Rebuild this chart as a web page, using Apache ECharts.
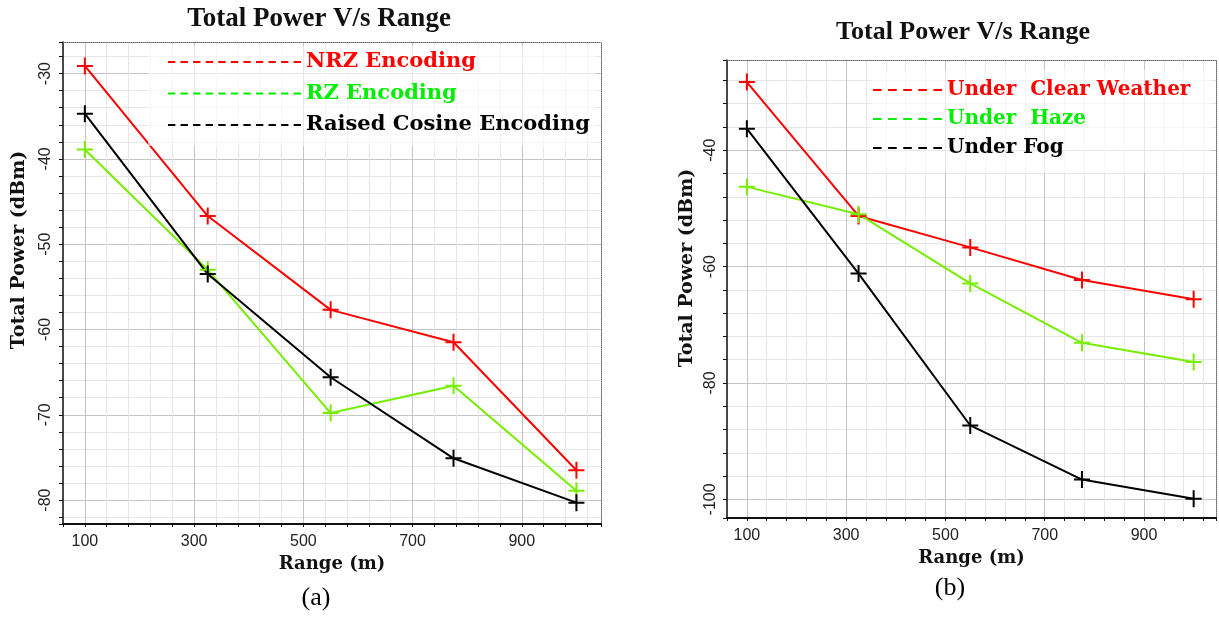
<!DOCTYPE html>
<html>
<head>
<meta charset="utf-8">
<script src="https://cdn.jsdelivr.net/npm/echarts@6/dist/echarts.min.js"></script>
<style>
html, body { margin:0; padding:0; background:#fff; }
#main { width:1219px; height:617px; }
</style>
</head>
<body>
<div id="main"></div>
<script>
// range (m), same for both plots
var range = [100, 325, 550, 775, 1000];

// (a) encodings
var encNames = ['NRZ Encoding', 'RZ Encoding', 'Raised Cosine Encoding'];
var nrz = [-29.1, -46.7, -57.7, -61.5, -76.5];
var rz = [-38.9, -53.0, -69.8, -66.6, -78.9];
var raisedCos = [-34.7, -53.5, -65.6, -75.1, -80.3];

// (b) weather
var weatherNames = ['Under  Clear Weather', 'Under  Haze', 'Under Fog'];
var clearW = [-28.3, -51.3, -56.7, -62.3, -65.6];
var haze = [-46.3, -51.0, -62.9, -73.1, -76.4];
var fog = [-36.3, -61.2, -87.3, -96.6, -99.9];

// tick labels
var xTicks = [100, 300, 500, 700, 900];
var yTicksA = [-30, -40, -50, -60, -70, -80];
var yTicksB = [-40, -60, -80, -100];

var lineCols = ['#ff0000', '#77ee00', '#000000'];
var legCols = ['#ff0000', '#00ee00', '#000000'];
var plus = 'path://M7,0h2v17h-2z M0,7.5h16v2h-16z';

function pts(ys) {
    return range.map(function (x, i) { return [x, ys[i]]; });
}
function dashPath(n, d, g) {
    var p = 'path://';
    for (var i = 0; i < n; i++) p += 'M' + (i * (d + g)) + ',0h' + d + 'v2h-' + d + 'z ';
    return p;
}
function pick(list) {
    return function (v) { return list.indexOf(Math.round(v * 1000) / 1000) >= 0 ? v : ''; };
}

var lite = '#e6e6e6', dark = '#c4c4c4';
var nameFont = { fontFamily: 'DejaVu Serif', fontWeight: 'bold', fontSize: 18, color: '#111' };
var tickFont = { fontFamily: 'Liberation Sans', fontSize: 16, color: '#222' };

function bottomAxis(gi) {
    return {
        type: 'value', gridIndex: gi, min: 60, max: 1045, interval: 40,
        axisLine: { show: true, onZero: false, lineStyle: { color: '#111', width: 2 } },
        axisTick: { show: true, length: 3, lineStyle: { color: '#111' } },
        axisLabel: Object.assign({ formatter: pick(xTicks), margin: 10 }, tickFont),
        splitLine: { show: true, lineStyle: { color: [lite, dark, lite, lite, lite], width: 1 } },
        name: 'Range (m)', nameLocation: 'middle', nameGap: 26, nameTextStyle: nameFont
    };
}
function topAxis(gi) {
    return {
        type: 'value', gridIndex: gi, position: 'top', min: 60, max: 1045,
        axisLine: { show: true, onZero: false, lineStyle: { color: '#666', type: [1, 1], width: 1 } },
        axisTick: { show: false }, axisLabel: { show: false }, splitLine: { show: false }
    };
}
function rightAxis(gi, mn, mx) {
    return {
        type: 'value', gridIndex: gi, position: 'right', min: mn, max: mx,
        axisLine: { show: true, onZero: false, lineStyle: { color: '#666', type: [1, 1], width: 1 } },
        axisTick: { show: false }, axisLabel: { show: false }, splitLine: { show: false }
    };
}

var myChart = echarts.init(document.getElementById('main'));

var option = {
    animation: false,
    backgroundColor: '#fff',
    grid: [
        { left: 63, top: 42, width: 538, height: 482 },
        { left: 727, top: 60, width: 489, height: 458 }
    ],
    xAxis: [bottomAxis(0), bottomAxis(1), topAxis(0), topAxis(1)],
    yAxis: [
        {
            type: 'value', gridIndex: 0, min: -82.8, max: -26.3, minInterval: 2, maxInterval: 2, splitNumber: 28,
            axisLine: { show: true, onZero: false, lineStyle: { color: '#111', width: 1.5 } },
            axisTick: { show: true, length: 4, lineStyle: { color: '#111' } },
            axisLabel: Object.assign({ rotate: 90, formatter: pick(yTicksA), margin: 9 }, tickFont),
            splitLine: { show: true, lineStyle: { color: [lite, lite, dark, lite, lite], width: 1 } }
        },
        {
            type: 'value', gridIndex: 1, min: -103.2, max: -24.5, minInterval: 4, maxInterval: 4, splitNumber: 20,
            axisLine: { show: true, onZero: false, lineStyle: { color: '#111', width: 1.5 } },
            axisTick: { show: true, length: 4, lineStyle: { color: '#111' } },
            axisLabel: Object.assign({ rotate: 90, formatter: pick(yTicksB), margin: 8 }, tickFont),
            splitLine: { show: true, lineStyle: { color: [lite, dark, lite, lite, lite], width: 1 } }
        },
        rightAxis(0, -82.8, -26.3),
        rightAxis(1, -103.2, -24.5)
    ],
    legend: [
        {
            orient: 'vertical', left: 148, top: 46, padding: [4, 6, 9, 20], itemGap: 7.5,
            itemWidth: 133, itemHeight: 2, icon: dashPath(11, 7, 5), symbolKeepAspect: false,
            backgroundColor: 'rgba(255,255,255,0.6)', selectedMode: false,
            itemStyle: { borderWidth: 0 },
            textStyle: { fontFamily: 'DejaVu Serif', fontWeight: 'bold', fontSize: 21, lineHeight: 24 },
            data: encNames.map(function (n, i) {
                return { name: n, textStyle: { color: legCols[i] }, itemStyle: { color: legCols[i], borderWidth: 0 } };
            })
        },
        {
            orient: 'vertical', left: 871, top: 70, padding: [9, 20, 14, 2], itemGap: 7,
            itemWidth: 69, itemHeight: 2, icon: dashPath(5, 8, 6), symbolKeepAspect: false,
            backgroundColor: 'rgba(255,255,255,0.6)', selectedMode: false,
            itemStyle: { borderWidth: 0 },
            textStyle: { fontFamily: 'DejaVu Serif', fontWeight: 'bold', fontSize: 20, lineHeight: 22 },
            data: weatherNames.map(function (n, i) {
                return { name: n, textStyle: { color: legCols[i] }, itemStyle: { color: legCols[i], borderWidth: 0 } };
            })
        }
    ],
    graphic: [
        { type: 'text', x: 319, y: 19, style: { text: 'Total Power V/s Range', font: 'bold 27px "Liberation Serif"', fill: '#111', align: 'center', verticalAlign: 'middle' } },
        { type: 'text', x: 963, y: 32, style: { text: 'Total Power V/s Range', font: 'bold 26px "Liberation Serif"', fill: '#111', align: 'center', verticalAlign: 'middle' } },
        { type: 'text', x: 19, y: 250, rotation: Math.PI / 2, style: { text: 'Total Power (dBm)', font: 'bold 19px "DejaVu Serif"', fill: '#111', align: 'center', verticalAlign: 'middle' } },
        { type: 'text', x: 687, y: 268, rotation: Math.PI / 2, style: { text: 'Total Power (dBm)', font: 'bold 19px "DejaVu Serif"', fill: '#111', align: 'center', verticalAlign: 'middle' } },
        { type: 'text', x: 316, y: 598, style: { text: '(a)', font: '26px "Liberation Serif"', fill: '#000', align: 'center', verticalAlign: 'middle' } },
        { type: 'text', x: 950, y: 588, style: { text: '(b)', font: '26px "Liberation Serif"', fill: '#000', align: 'center', verticalAlign: 'middle' } }
    ],
    series: []
};

var sets = [
    [encNames, [nrz, rz, raisedCos], 0],
    [weatherNames, [clearW, haze, fog], 1]
];
sets.forEach(function (s) {
    s[0].forEach(function (name, i) {
        option.series.push({
            name: name, type: 'line', xAxisIndex: s[2], yAxisIndex: s[2],
            data: pts(s[1][i]),
            color: lineCols[i],
            symbol: plus, symbolSize: [16, 17],
            itemStyle: { color: lineCols[i], borderWidth: 0 },
            lineStyle: { color: lineCols[i], width: 2 },
            emphasis: { disabled: true }
        });
    });
});

myChart.setOption(option);
</script>
</body>
</html>
